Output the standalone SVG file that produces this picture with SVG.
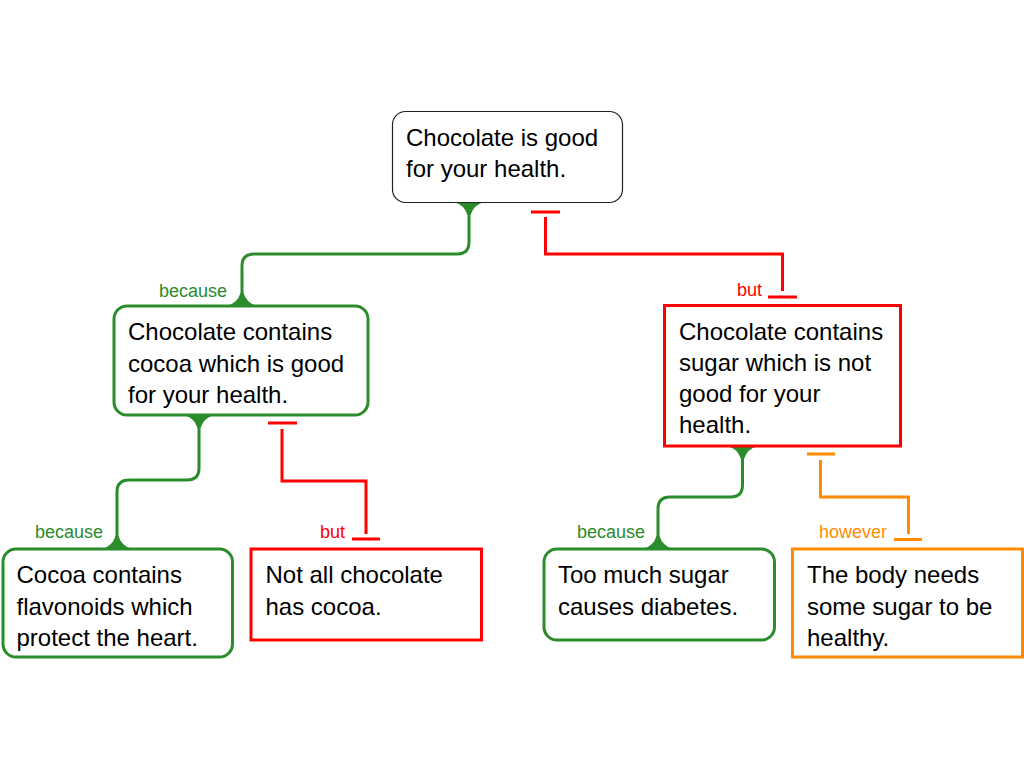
<svg xmlns="http://www.w3.org/2000/svg" width="1024" height="768" viewBox="0 0 1024 768">
<style>
.t{font-family:"Liberation Sans",Arial,sans-serif;font-size:24px;fill:#000}
.lb{font-family:"Liberation Sans",Arial,sans-serif;font-size:18px;text-anchor:end}
.g{stroke:#2a8c2a;fill:none;stroke-width:3}
.r{stroke:#ff0000;fill:none;stroke-width:3}
.o{stroke:#ff8c00;fill:none;stroke-width:3}
.gf{fill:#2a8c2a}
</style>
<defs>
<path id="flare" d="M-15,0 L15,0 Q4.5,3 1.5,13 L-1.5,13 Q-4.5,3 -15,0 Z"/>
</defs>
<rect width="1024" height="768" fill="#fff"/>
<g id="connectors">
<path class="g" d="M469,205 V242 Q469,254 457,254 H254 Q242,254 242,266 V303"/>
<use href="#flare" class="gf" transform="translate(469,202)"/>
<use href="#flare" class="gf" transform="translate(242,306) scale(1,-1)"/>
<path class="r" d="M531,212 H560 M545.5,217 V254 H782.5 V291 M768,297 H797"/>
<path class="g" d="M199,417 V468 Q199,480 187,480 H129 Q117,480 117,492 V546"/>
<use href="#flare" class="gf" transform="translate(199,415)"/>
<use href="#flare" class="gf" transform="translate(117,549) scale(1,-1)"/>
<path class="r" d="M268,423 H297 M282,429 V481 H366 V534 M352,539 H380"/>
<path class="g" d="M742.5,448 V485 Q742.5,497 730.5,497 H670 Q658,497 658,509 V546"/>
<use href="#flare" class="gf" transform="translate(742.5,446)"/>
<use href="#flare" class="gf" transform="translate(658,549) scale(1,-1)"/>
<path class="o" d="M807,454 H835 M820.5,460 V497 H908.5 V534 M894,539.5 H922"/>
<text class="lb" x="227" y="297" fill="#2a8c2a">because</text>
<text class="lb" x="762" y="296" fill="#ff0000">but</text>
<text class="lb" x="103" y="538" fill="#2a8c2a">because</text>
<text class="lb" x="345" y="538" fill="#ff0000">but</text>
<text class="lb" x="645" y="538" fill="#2a8c2a">because</text>
<text class="lb" x="887" y="538" fill="#ff8c00">however</text>
</g>
<g id="n0">
<rect x="392.5" y="111.5" width="230" height="91" rx="13" fill="#fff" stroke="#222" stroke-width="1.2"/>
<text class="t" x="406" y="146">Chocolate is good</text>
<text class="t" x="406" y="177">for your health.</text>
</g>
<g id="n1">
<rect x="114" y="306" width="254" height="109" rx="13" fill="#fff" class="g"/>
<text class="t" x="128" y="340">Chocolate contains</text>
<text class="t" x="128" y="372">cocoa which is good</text>
<text class="t" x="128" y="403">for your health.</text>
</g>
<g id="n2">
<rect x="664.5" y="305.5" width="236" height="140.5" fill="#fff" class="r"/>
<text class="t" x="679" y="340">Chocolate contains</text>
<text class="t" x="679" y="371">sugar which is not</text>
<text class="t" x="679" y="402">good for your</text>
<text class="t" x="679" y="433">health.</text>
</g>
<g id="n3">
<rect x="3" y="549" width="229.5" height="108" rx="13" fill="#fff" class="g"/>
<text class="t" x="16.5" y="583">Cocoa contains</text>
<text class="t" x="16.5" y="614.5">flavonoids which</text>
<text class="t" x="16.5" y="646">protect the heart.</text>
</g>
<g id="n4">
<rect x="251" y="549" width="230.5" height="91" fill="#fff" class="r"/>
<text class="t" x="265.5" y="583">Not all chocolate</text>
<text class="t" x="265.5" y="614.5">has cocoa.</text>
</g>
<g id="n5">
<rect x="544" y="549" width="230.5" height="91" rx="13" fill="#fff" class="g"/>
<text class="t" x="558" y="583">Too much sugar</text>
<text class="t" x="558" y="614.5">causes diabetes.</text>
</g>
<g id="n6">
<rect x="792.5" y="549" width="230" height="108" fill="#fff" class="o"/>
<text class="t" x="807" y="583">The body needs</text>
<text class="t" x="807" y="614.5">some sugar to be</text>
<text class="t" x="807" y="646">healthy.</text>
</g>
</svg>
